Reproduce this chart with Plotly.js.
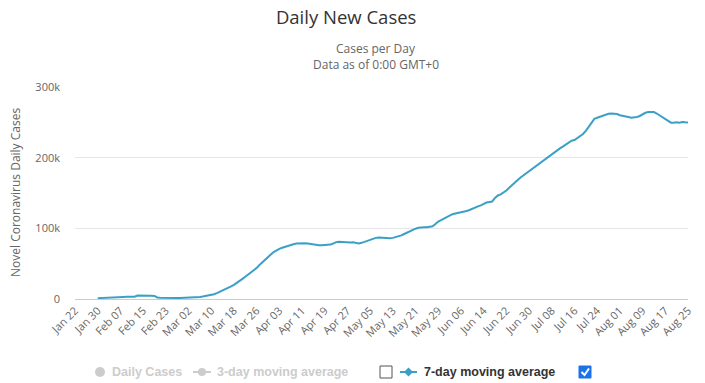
<!DOCTYPE html>
<html>
<head>
<meta charset="utf-8">
<script src="https://cdn.plot.ly/plotly-3.0.1.min.js"></script>
<style>html,body{margin:0;padding:0;background:#fff;}#chart{width:705px;height:383px;}</style>
</head>
<body>
<div id="chart"></div>
<script>
// ---- data ----
var axisStart = '2020-01-22';
var axisEnd = '2020-08-25';
var seriesStart = '2020-01-30';
// 7-day moving average of daily new cases, in thousands, one per day from Jan 30 to Aug 25
var movingAvg7k = [
  1.2, 1.5, 1.7, 1.9, 2.1, 2.4, 2.6, 2.8, 2.9, 3.0,
  3.1, 3.1, 3.1, 3.2, 4.9, 5.0, 4.8, 4.7, 4.6, 4.5,
  4.3, 2.2, 1.7, 1.5, 1.4, 1.3, 1.3, 1.3, 1.4, 1.5,
  1.6, 1.8, 2.0, 2.2, 2.4, 2.7, 3.0, 3.5, 4.2, 4.8,
  5.6, 6.8, 8.3, 10.0, 11.8, 13.5, 15.5, 17.8, 20.0, 22.5,
  25.5, 28.5, 31.5, 34.5, 37.5, 40.5, 44.0, 48.0, 52.0, 55.5,
  59.0, 63.0, 66.5, 69.0, 71.0, 72.5, 74.0, 75.5, 76.5, 77.5,
  78.5, 79.0, 79.3, 79.0, 78.5, 77.8, 77.0, 76.3, 76.0, 76.2,
  76.5, 76.8, 77.0, 78.5, 80.5, 81.0, 80.5, 80.3, 80.5, 80.0,
  80.2, 79.8, 78.7, 79.5, 81.0, 82.5, 84.5, 86.0, 86.5, 87.0,
  86.5, 86.8, 86.2, 86.0, 86.5, 87.5, 88.5, 90.0, 92.0, 94.0,
  96.0, 97.8, 99.5, 100.8, 101.5, 101.6, 101.5, 102.0, 103.0, 106.0,
  109.5, 111.5, 113.5, 116.0, 118.5, 120.0, 121.0, 121.8, 122.5, 123.2,
  124.5, 126.0, 128.0, 129.5, 131.0, 132.5, 134.5, 136.5, 137.3, 138.0,
  143.0, 146.5, 148.0, 150.5, 153.5, 157.5, 161.5, 164.5, 168.5, 172.0,
  175.0, 178.0, 181.5, 184.5, 187.5, 190.0, 192.5, 195.5, 199.0, 202.5,
  205.5, 208.0, 211.0, 213.5, 216.0, 218.5, 221.5, 224.0, 225.0, 227.5,
  230.0, 233.5, 238.0, 243.5, 250.5, 255.0, 256.5, 258.0, 259.5, 261.0,
  262.0, 262.5, 262.3, 261.8, 260.0, 259.5, 258.5, 257.5, 256.5, 256.8,
  257.5, 259.0, 261.5, 263.5, 264.5, 265.0, 264.5, 262.5, 260.0, 257.5,
  255.0, 252.5, 249.5, 249.3, 250.0, 249.5, 250.3, 250.0, 249.8
];
var yTickVals = [0, 100000, 200000, 300000];
var yTickText = ['0', '100k', '200k', '300k'];
var legendLabels = ['Daily Cases', '3-day moving average', '7-day moving average'];

// ---- build ----
var DAY = 86400000;
var t0 = Date.parse(seriesStart + 'T00:00:00Z');
var xDates = movingAvg7k.map(function (v, i) {
  return new Date(t0 + i * DAY).toISOString().slice(0, 10);
});
var yVals = movingAvg7k.map(function (v) { return v * 1000; });

var LINE = '#3aa0c6';
var GREY = '#cccccc';

// pixel -> paper helpers (plot area: x 75..688, y 87..299)
var PL = 75, PW = 613, PB = 299, PH = 212;
function px(x) { return (x - PL) / PW; }
function py(y) { return (PB - y) / PH; }

var legY = 372;
var shapes = [
  {type: 'circle', xref: 'paper', yref: 'paper', x0: px(95), x1: px(105), y0: py(legY + 5), y1: py(legY - 5), fillcolor: GREY, line: {width: 0}},
  {type: 'line', xref: 'paper', yref: 'paper', x0: px(193), x1: px(211), y0: py(legY), y1: py(legY), line: {color: GREY, width: 2}},
  {type: 'circle', xref: 'paper', yref: 'paper', x0: px(198), x1: px(206), y0: py(legY + 4), y1: py(legY - 4), fillcolor: GREY, line: {width: 0}},
  {type: 'rect', xref: 'paper', yref: 'paper', x0: px(380), x1: px(392), y0: py(378), y1: py(366), fillcolor: '#ffffff', line: {color: '#555555', width: 1}},
  {type: 'line', xref: 'paper', yref: 'paper', x0: px(400), x1: px(417), y0: py(legY), y1: py(legY), line: {color: LINE, width: 2}},
  {type: 'path', xref: 'paper', yref: 'paper',
   path: 'M ' + px(408.5) + ' ' + py(legY - 4.5) + ' L ' + px(413) + ' ' + py(legY) + ' L ' + px(408.5) + ' ' + py(legY + 4.5) + ' L ' + px(404) + ' ' + py(legY) + ' Z',
   fillcolor: LINE, line: {width: 0}},
  {type: 'rect', xref: 'paper', yref: 'paper', x0: px(579), x1: px(591), y0: py(378), y1: py(366), fillcolor: '#1a73e8', line: {color: '#1a73e8', width: 1}},
  {type: 'path', xref: 'paper', yref: 'paper',
   path: 'M ' + px(581.5) + ' ' + py(372) + ' L ' + px(584.5) + ' ' + py(375) + ' L ' + px(589) + ' ' + py(368.5),
   line: {color: '#ffffff', width: 2}}
];

var legFont = {family: 'Liberation Sans, Arial, sans-serif', size: 12.5};
var annotations = [
  {xref: 'paper', yref: 'paper', x: 0.5, y: py(49), xshift: -6, text: 'Cases per Day', showarrow: false,
   font: {family: 'Open Sans, sans-serif', size: 12, color: '#666666'}, xanchor: 'center', yanchor: 'middle'},
  {xref: 'paper', yref: 'paper', x: 0.5, y: py(64), xshift: -6, text: 'Data as of 0:00 GMT+0', showarrow: false,
   font: {family: 'Open Sans, sans-serif', size: 12, color: '#666666'}, xanchor: 'center', yanchor: 'middle'},
  {xref: 'paper', yref: 'paper', x: px(110), y: py(legY), text: '<b>' + legendLabels[0] + '</b>', showarrow: false,
   font: Object.assign({color: GREY}, legFont), xanchor: 'left', yanchor: 'middle'},
  {xref: 'paper', yref: 'paper', x: px(215), y: py(legY), text: '<b>' + legendLabels[1] + '</b>', showarrow: false,
   font: Object.assign({color: GREY}, legFont), xanchor: 'left', yanchor: 'middle'},
  {xref: 'paper', yref: 'paper', x: px(422), y: py(legY), text: '<b>' + legendLabels[2] + '</b>', showarrow: false,
   font: Object.assign({color: '#333333'}, legFont), xanchor: 'left', yanchor: 'middle'},
  {xref: 'paper', yref: 'paper', x: px(15), y: 0.5, text: 'Novel Coronavirus Daily Cases', showarrow: false, textangle: -90,
   font: {family: 'Open Sans, sans-serif', size: 12, color: '#666666'}, xanchor: 'center', yanchor: 'middle'}
];

var trace = {
  type: 'scatter', mode: 'lines', name: legendLabels[2],
  x: xDates, y: yVals,
  line: {color: LINE, width: 2},
  hoverinfo: 'skip'
};

var layout = {
  width: 705, height: 383,
  margin: {l: 75, r: 17, t: 87, b: 84},
  paper_bgcolor: '#ffffff', plot_bgcolor: '#ffffff',
  showlegend: false,
  title: {text: 'Daily New Cases', x: 0.491, xanchor: 'center', y: 1 - 18 / 383, yanchor: 'middle',
          font: {family: 'Open Sans, sans-serif', size: 18.5, color: '#333333'}},
  xaxis: {
    type: 'date', range: [axisStart, axisEnd],
    tick0: axisStart, dtick: 8 * DAY, tickformat: '%b %d',
    tickangle: -45, showgrid: false, zeroline: false,
    showline: true, linecolor: '#cccccc', linewidth: 1,
    ticks: '', tickfont: {family: 'Open Sans, sans-serif', size: 11, color: '#666666'},
    fixedrange: true
  },
  yaxis: {
    range: [0, 300000], tickvals: yTickVals, ticktext: yTickText,
    showgrid: true, gridcolor: '#e6e6e6', gridwidth: 1, zeroline: false,
    showline: false, ticks: '', ticklabelstandoff: 14,
    tickfont: {family: 'Open Sans, sans-serif', size: 11, color: '#666666'},
    fixedrange: true
  },
  shapes: shapes,
  annotations: annotations
};

Plotly.newPlot('chart', [trace], layout, {staticPlot: true, displayModeBar: false});
</script>
</body>
</html>
